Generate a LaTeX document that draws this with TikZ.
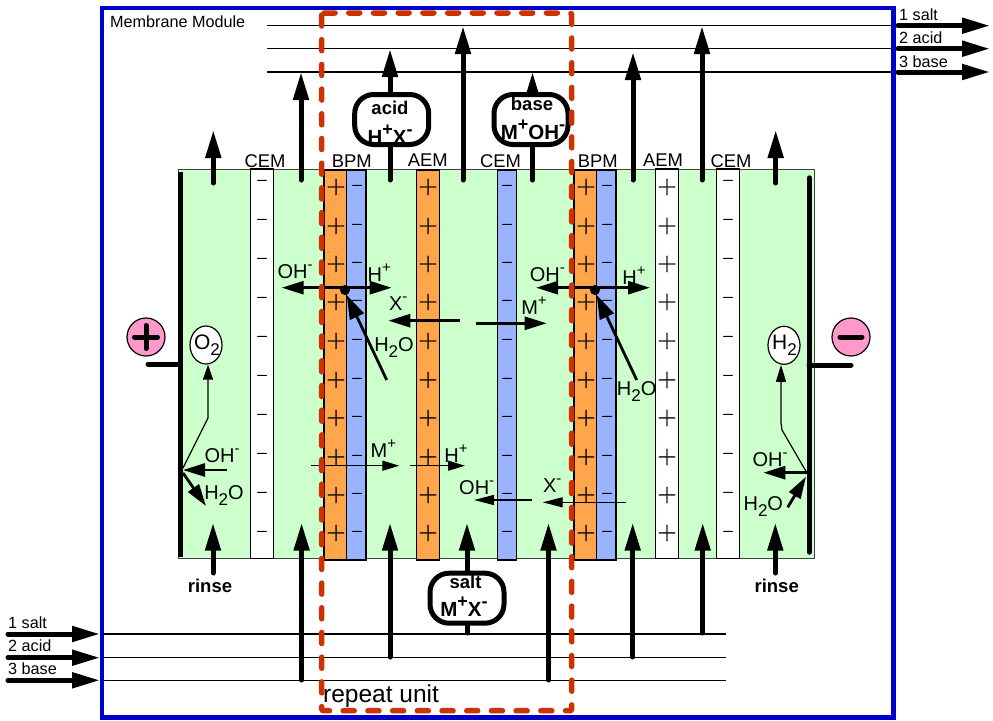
\documentclass[tikz,border=0pt]{standalone}
\usepackage{fontspec}
\setmainfont{Liberation Sans}
\newfontfamily\plusfont[FakeBold=1.5]{Latin Modern Roman}
\newfontfamily\minusfont[FakeBold=4]{Latin Modern Roman}
\usetikzlibrary{arrows.meta,shapes.geometric}
\definecolor{mgreen}{HTML}{CCFFCC}
\definecolor{morange}{HTML}{FFA64D}
\definecolor{mblue}{HTML}{99B3FF}
\definecolor{fblue}{HTML}{0000CC}
\definecolor{rred}{HTML}{CC3300}
\definecolor{mpink}{HTML}{FF99CC}
\newcommand\upx[1]{\raisebox{9pt}{\fontsize{15}{15}\selectfont #1}}
\newcommand\upb[1]{\raisebox{9pt}{\fontsize{18}{18}\selectfont\bfseries #1}}
\newcommand\dnx[1]{\raisebox{-6pt}{\fontsize{17}{17}\selectfont #1}}
\newcommand\hwo{H\dnx{2}O}
\tikzset{
  bigarrow/.style={line width=5pt,line cap=round,-{Triangle[length=28pt,width=15pt]}},
  midarrow/.style={line width=2.8pt,-{Triangle[length=22pt,width=13pt]}},
  thinarrow/.style={line width=1.3pt,-{Triangle[length=17pt,width=10pt]}},
  flow/.style={line width=1.2pt},
  membrane/.style={draw=black,line width=1.2pt},
  lab/.style={inner sep=0pt,font=\fontsize{20}{20}\selectfont},
  memlab/.style={inner sep=0pt,font=\fontsize{18.4}{18.4}\selectfont},
  small/.style={inner sep=0pt,font=\fontsize{16.2}{16.2}\selectfont},
  boldlab/.style={inner sep=0pt,font=\fontsize{18.5}{18.5}\selectfont\bfseries},
  boldform/.style={inner sep=0pt,font=\fontsize{20.5}{20.5}\selectfont\bfseries},
  capsule/.style={draw=black,fill=white,line width=5pt,rounded corners=19pt,inner sep=0pt,minimum width=74pt,minimum height=50pt},
  gas/.style={draw=black,fill=white,line width=1.2pt,ellipse,inner sep=0pt},
  plussign/.style={inner sep=0pt,font=\fontsize{26}{26}\plusfont},
  minussign/.style={inner sep=0pt,font=\fontsize{14}{14}\minusfont},
}
\begin{document}
\begin{tikzpicture}[x=1pt,y=-1pt]
\useasboundingbox (0,0) rectangle (993,720);
% cell stack
\draw[fill=mgreen,draw=black!75,line width=1pt] (178,169) rectangle (814.6,558.3);
\draw[membrane,fill=white] (250.5,169) rectangle (273.7,558.3);
\draw[membrane,fill=white] (655.7,169) rectangle (678.7,558.3);
\draw[membrane,fill=white] (716.7,169) rectangle (739.7,558.3);
\draw[membrane,fill=morange] (324,170) rectangle (346.7,560);
\draw[membrane,fill=mblue] (346.7,170) rectangle (366,560);
\draw[membrane,fill=morange] (416.7,170) rectangle (439.3,560);
\draw[membrane,fill=mblue] (497.7,170) rectangle (516.7,560);
\draw[membrane,fill=morange] (574,170) rectangle (596.7,560);
\draw[membrane,fill=mblue] (596.7,170) rectangle (616,560);
% membrane charges
\foreach \y [count=\i] in {182,221,260,299,338,377,416,455,494,533}{
  \node[minussign] (ma\i) at (262,\y) {−};
  \node[minussign] (mb\i) at (728,\y) {−};
}
\foreach \y [count=\i] in {187,226,264,302,341,380,418,457,495,533}{
  \node[plussign] (pa\i) at (336,\y) {+};
  \node[plussign] (pb\i) at (428,\y) {+};
  \node[plussign] (pc\i) at (586,\y) {+};
  \node[plussign] (pd\i) at (667,\y) {+};
  \node[minussign] (mc\i) at (357,\y) {−};
  \node[minussign] (md\i) at (507,\y) {−};
  \node[minussign] (me\i) at (607,\y) {−};
}
% membrane names
\node[memlab] (cem1) at (265,161) {CEM};
\node[memlab] (bpm1) at (351.7,161) {BPM};
\node[memlab] (aem1) at (427.7,160) {AEM};
\node[memlab] (cem2) at (500.5,161) {CEM};
\node[memlab] (bpm2) at (597.7,161) {BPM};
\node[memlab] (aem2) at (663,160) {AEM};
\node[memlab] (cem3) at (731,161) {CEM};
% manifolds
\coordinate (t1a) at (267,25.7); \coordinate (t1b) at (895,25.7);
\coordinate (t2a) at (267,48.7); \coordinate (t2b) at (895,48.7);
\coordinate (t3a) at (267,72);   \coordinate (t3b) at (895,72);
\coordinate (b1a) at (100,634);  \coordinate (b1b) at (726,634);
\coordinate (b2a) at (100,657.7);\coordinate (b2b) at (726,657.7);
\coordinate (b3a) at (100,680.3);\coordinate (b3b) at (726,680.3);
\foreach \n in {t1,t2,t3,b1,b2,b3}{\draw[flow] (\n a) -- (\n b);}
% vertical stream arrows, top
\draw[bigarrow] (213.3,183) -- (213.3,130);
\draw[bigarrow] (301,180) -- (301,72);
\draw[bigarrow] (390,180) -- (390,49);
\draw[bigarrow] (463,180) -- (463,26);
\draw[bigarrow] (532.5,180) -- (532.5,72);
\draw[bigarrow] (633,180) -- (633,52);
\draw[bigarrow] (702,180) -- (702,26);
\draw[bigarrow] (775.7,183) -- (775.7,130);
% vertical stream arrows, bottom
\draw[bigarrow] (213,573) -- (213,522.7);
\draw[bigarrow] (301.6,680) -- (301.6,522.7);
\draw[bigarrow] (390,657) -- (390,522.7);
\draw[bigarrow] (467,633) -- (467,522.7);
\draw[bigarrow] (548.5,680) -- (548.5,522.7);
\draw[bigarrow] (632.7,657) -- (632.7,522.7);
\draw[bigarrow] (702.7,633) -- (702.7,522.7);
\draw[bigarrow] (775.3,573) -- (775.3,522.7);
% capsules
\node[capsule] (acidbox) at (391.7,119.5) {};
\node[capsule] (basebox) at (531,119.5) {};
\node[capsule] (saltbox) at (467,598.2) {};
\node[boldlab] (acidt) at (390,108) {acid};
\node[boldform] (acidf) at (390,135) {H\upb{+}X\upb{-}};
\node[boldlab] (baset) at (532,104) {base};
\node[boldform] (basef) at (533,130) {M\upb{+}OH\upb{-}};
\node[boldlab] (saltt) at (465.5,582) {salt};
\node[boldform] (saltf) at (464,607) {M\upb{+}X\upb{-}};
\node[boldlab] (rinsea) at (210,585.7) {rinse};
\node[boldlab] (rinseb) at (776.7,585.7) {rinse};
% external arrows
\foreach \y/\n in {25.7/o1,48.7/o2,72/o3}{
  \coordinate (\n s) at (898,\y); \coordinate (\n e) at (990,\y);
  \draw[bigarrow] (\n s) -- (\n e);
}
\foreach \y/\n in {634/i1,657.7/i2,680.3/i3}{
  \coordinate (\n s) at (8,\y); \coordinate (\n e) at (100,\y);
  \draw[bigarrow] (\n s) -- (\n e);
}
\node[small,anchor=west] (ol1) at (899,15) {1 salt};
\node[small,anchor=west] (ol2) at (899,38) {2 acid};
\node[small,anchor=west] (ol3) at (899,61.5) {3 base};
\node[small,anchor=west] (il1) at (8,623) {1 salt};
\node[small,anchor=west] (il2) at (8,646) {2 acid};
\node[small,anchor=west] (il3) at (8,669) {3 base};
\node[small,anchor=west] (modlab) at (110,21.5) {Membrane Module};
% electrodes
\draw[line width=5.5pt] (180.5,172) -- (180.5,557);
\draw[line width=5.5pt,line cap=round] (809.3,178) -- (809.3,552);
\node[circle,draw=black,fill=mpink,line width=1.2pt,minimum size=38pt,inner sep=0pt] (anode) at (146,337) {};
\node[circle,draw=black,fill=mpink,line width=1.2pt,minimum size=38pt,inner sep=0pt] (cathode) at (851,337) {};
\draw[line width=5pt,line cap=round] (134.5,337) -- (157.5,337) (146,325.5) -- (146,348.5);
\draw[line width=5pt,line cap=round] (840,337) -- (862,337);
\draw[line width=5pt,line cap=round] (148,364) -- (180,364);
\draw[line width=5pt,line cap=round] (809,365) -- (851,365);
% gases
\node[gas,minimum width=32pt,minimum height=38pt] (o2gas) at (206,345) {};
\node[gas,minimum width=32pt,minimum height=38pt] (h2gas) at (784,345.3) {};
\node[lab,font=\fontsize{21}{21}\selectfont] (o2t) at (207,345) {O\dnx{2}};
\node[lab,font=\fontsize{21}{21}\selectfont] (h2t) at (784.5,345) {H\dnx{2}};
\draw[flow,-{Triangle[length=15pt,width=10pt]}] (183,468) -- (208,418) -- (o2gas.south -| 208,364);
\draw[flow,-{Triangle[length=17pt,width=10pt]}] (807,473) -- (782,430) -- (781,423) -- (h2gas.south -| 781,366);
% electrode reactions
\draw[midarrow] (226.7,470) -- (183,470);
\draw[midarrow] (183,473) -- (206,506);
\node[lab] (ohl) at (222,456) {OH\upx{-}};
\node[lab] (wl) at (224,496) {\hwo};
\draw[midarrow] (807,472.7) -- (763.3,472.7);
\draw[midarrow] (787.7,507.3) -- (806,476.7);
\node[lab] (ohr) at (770,460) {OH\upx{-}};
\node[lab] (wr) at (763.3,507) {\hwo};
% bipolar membrane 1
\fill (345,290) circle (5pt) coordinate (jA);
\draw[midarrow] (jA |- 0,287.7) -- (281.7,287.7);
\draw[midarrow] (jA |- 0,287.7) -- (391.7,287.7);
\draw[midarrow,-{Triangle[length=24pt,width=15pt]}] (386.7,380) -- (346.7,295);
\node[lab] (l1) at (295,272) {OH\upx{-}};
\node[lab] (l2) at (379.3,272.3) {H\upx{+}};
\node[lab] (l3) at (398.3,304) {X\upx{-}};
\node[lab] (l4) at (394,348) {\hwo};
% bipolar membrane 2
\fill (595,290) circle (5pt) coordinate (jB);
\draw[midarrow] (jB |- 0,287.7) -- (536,287.7);
\draw[midarrow] (jB |- 0,287.7) -- (650,287.7);
\draw[midarrow,-{Triangle[length=24pt,width=15pt]}] (636.7,380) -- (596.7,295);
\node[lab] (l5) at (547.3,275) {OH\upx{-}};
\node[lab] (l6) at (634,276) {H\upx{+}};
\node[lab] (l7) at (636.7,391.7) {\hwo};
% ion transport
\draw[midarrow] (460,320.7) -- (388.3,320.7);
\draw[midarrow] (476,323.3) -- (546.7,323.3);
\node[lab] (l8) at (534,306) {M\upx{+}};
\draw[thinarrow] (310.7,465.7) -- (399.3,465.7);
\draw[thinarrow] (410,465.7) -- (465,465.7);
\node[lab] (l9) at (383.3,449) {M\upx{+}};
\node[lab] (l10) at (456,454) {H\upx{+}};
\draw[thinarrow,-{Triangle[length=20pt,width=10pt]}] (531.7,500) -- (474,500);
\draw[thinarrow,-{Triangle[length=20pt,width=10pt]}] (625.7,502.3) -- (542.7,502.3);
\node[lab] (l11) at (476.7,487.3) {OH\upx{-}};
\node[lab] (l12) at (552.3,486) {X\upx{-}};
% frames
\draw[fblue,line width=4.5pt] (102,8) rectangle (893.7,717.6);
\node[inner sep=0pt,anchor=west,font=\fontsize{24.5}{24.5}\selectfont] (rep) at (323,696) {repeat unit};
\draw[rred,line width=5.5pt,line cap=round,rounded corners=2pt,dash pattern=on 11pt off 13.7pt] (321.7,13) rectangle (571.7,710.7);
\end{tikzpicture}
\end{document}
